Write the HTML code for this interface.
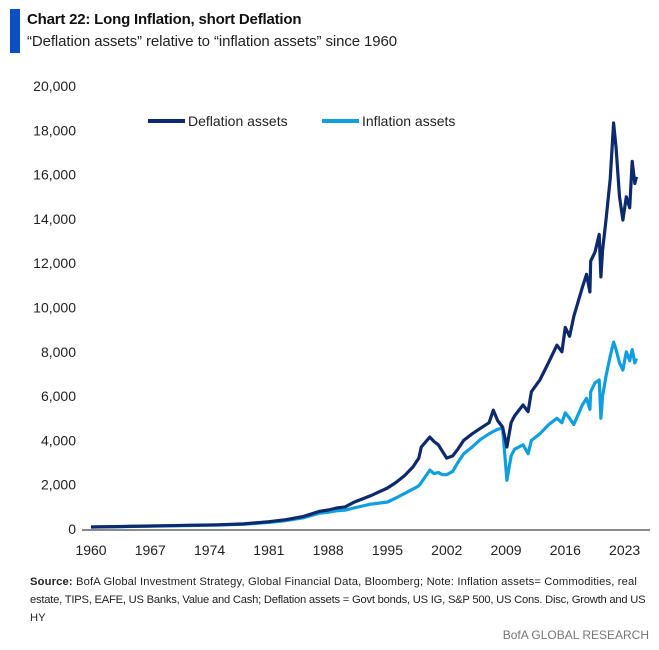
<!DOCTYPE html>
<html><head><meta charset="utf-8">
<style>
body{margin:0;background:#fff;width:659px;height:650px;overflow:hidden;font-family:"Liberation Sans",sans-serif;}
.t{position:absolute;white-space:nowrap;}
</style></head><body>
<div style="position:absolute;left:10px;top:9px;width:10px;height:44px;background:#0a4fc4"></div>
<div class="t" style="left:27px;top:11px;font-size:15px;font-weight:bold;color:#111;letter-spacing:-0.2px">Chart 22: Long Inflation, short Deflation</div>
<div class="t" style="left:27px;top:33px;font-size:15px;color:#222;letter-spacing:-0.1px">“Deflation assets” relative to “inflation assets” since 1960</div>
<svg id="chart" width="659" height="570" style="position:absolute;left:0;top:0"></svg>
<div class="t" style="left:30px;top:573px;font-size:11.2px;line-height:18px;color:#222"><span style="letter-spacing:0.15px"><b>Source:</b> BofA Global Investment Strategy, Global Financial Data, Bloomberg; Note: Inflation assets= Commodities, real</span><br><span style="letter-spacing:-0.22px">estate, TIPS, EAFE, US Banks, Value and Cash; Deflation assets = Govt bonds, US IG, S&amp;P 500, US Cons. Disc, Growth and US</span><br>HY</div>
<div class="t" style="right:10px;top:628px;font-size:12px;color:#777">BofA GLOBAL RESEARCH</div>
<script>
const years=[1960,1963,1966,1969,1972,1975,1978,1981,1983,1985,1987,1988,1989,1990,1991,1993,1995,1996,1997,1998,1998.7,1999,2000,2000.5,2001,2001.5,2002,2002.7,2003.3,2004,2005,2006,2007,2007.5,2008,2008.6,2009.1,2009.6,2010,2011,2011.6,2012,2013,2014,2015,2015.6,2016,2016.5,2017,2018,2018.5,2018.9,2019,2019.5,2020,2020.2,2020.4,2020.8,2021.3,2021.7,2022,2022.4,2022.8,2023.2,2023.6,2023.9,2024.2,2024.4];
const deflation=[90,110,130,150,170,190,230,330,420,560,800,860,950,1000,1200,1500,1850,2100,2400,2800,3200,3700,4150,3950,3800,3500,3200,3300,3600,4000,4300,4550,4800,5370,4900,4600,3700,4800,5100,5600,5300,6200,6730,7500,8300,8000,9100,8700,9600,10900,11500,10700,12100,12500,13300,11380,12600,13950,15800,18330,17200,15000,13950,15000,14500,16600,15600,15900];
const inflation=[90,105,120,140,160,180,210,300,380,500,720,760,820,850,950,1120,1220,1400,1600,1800,1950,2100,2660,2500,2550,2450,2450,2600,3000,3400,3700,4050,4300,4400,4500,4560,2200,3300,3600,3800,3400,4000,4300,4700,5000,4800,5240,5000,4720,5600,5900,5400,6200,6600,6730,5000,6000,6900,7800,8440,8100,7500,7180,8000,7600,8100,7500,7700];
const yTicks=[0,2000,4000,6000,8000,10000,12000,14000,16000,18000,20000];
const xTicks=[1960,1967,1974,1981,1988,1995,2002,2009,2016,2023];
const svg=document.getElementById('chart');const NS='http://www.w3.org/2000/svg';
const X=v=>91+(v-1960)*8.47, Y=v=>529-v*0.02215;
function mk(t,a){const e=document.createElementNS(NS,t);for(const k in a)e.setAttribute(k,a[k]);svg.appendChild(e);return e;}
yTicks.forEach(v=>{const t=mk('text',{x:76,y:Y(v)+5,'text-anchor':'end','font-size':14,fill:'#222','font-family':'Liberation Sans, sans-serif'});t.textContent=v.toLocaleString('en-US');

});
xTicks.forEach(v=>{const t=mk('text',{x:X(v),y:555,'text-anchor':'middle','font-size':14,fill:'#222','font-family':'Liberation Sans, sans-serif'});t.textContent=v;

});
const ax=mk('line',{x1:82,x2:650,y1:530,y2:530,stroke:'#444','stroke-width':1.2});


function line(vals,col,name){const d=vals.map((v,i)=>(i?'L':'M')+X(years[i]).toFixed(1)+','+Y(v).toFixed(1)).join('');const p=mk('path',{d:d,fill:'none',stroke:col,'stroke-width':3.2,'stroke-linejoin':'round'});

}
line(inflation,'#0f9ee0','inflation-assets-line');
line(deflation,'#0d2a6e','deflation-assets-line');
[[148,'#0d2a6e','Deflation assets'],[322,'#0f9ee0','Inflation assets']].forEach(l=>{const ln=mk('line',{x1:l[0],x2:l[0]+37,y1:121,y2:121,stroke:l[1],'stroke-width':4});


const t=mk('text',{x:l[0]+40,y:126,'font-size':14,fill:'#222','font-family':'Liberation Sans, sans-serif'});t.textContent=l[2];

});
</script>
</body></html>
